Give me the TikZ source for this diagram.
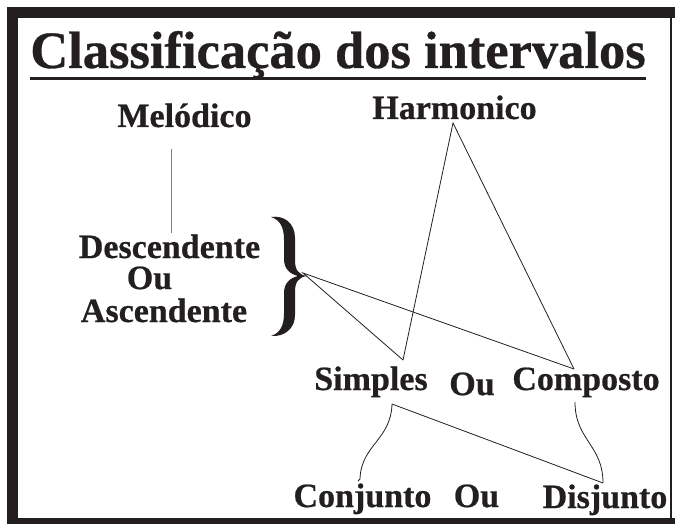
\documentclass[tikz,border=0pt]{standalone}
\usepackage{fontspec}
\newfontfamily\ttlfont[FakeBold=0.6]{Liberation Serif Bold}
\newfontfamily\labfont[FakeBold=0.6]{Liberation Serif Bold}
\definecolor{ink}{RGB}{35,31,32}
\tikzset{
  lbl/.style={anchor=base, inner sep=0pt, text=ink, font=\labfont\fontsize{34}{34}\selectfont},
  ttl/.style={anchor=base, inner sep=0pt, text=ink, font=\ttlfont\fontsize{52.5}{52.5}\selectfont},
  conn/.style={draw=ink, line width=0.8pt},
  band/.style={fill=ink, draw=none}
}
\begin{document}
\begin{tikzpicture}[x=1pt,y=-1pt]
\useasboundingbox (0,0) rectangle (675,524);
\fill[white] (0,0) rectangle (675,524);
% frame
\path[band] (7,7) rectangle (675,18);
\path[band] (7,7) rectangle (18,524);
\path[band] (7,518) rectangle (675,524);
\path[band] (670,7) rectangle (672,524);
% title
\node[ttl] (title) at (338,68) {Classificação dos intervalos};
\fill[ink] ([yshift=-9pt]title.base west) rectangle ([yshift=-12pt]title.base east);
% labels
\node[lbl] (mel) at (184.5,127) {Melódico};
\node[lbl] (har) at (454.5,119) {Harmonico};
\node[lbl] (des) at (169.5,258) {Descendente};
\node[lbl] (ou1) at (149.5,289) {Ou};
\node[lbl] (asc) at (164,322) {Ascendente};
\node[lbl] (sim) at (371,390) {Simples};
\node[lbl] (ou2) at (472,395) {Ou};
\node[lbl] (com) at (586,390) {Composto};
\node[lbl] (con) at (362.5,507) {Conjunto};
\node[lbl] (ou3) at (476.5,507) {Ou};
\node[lbl] (dis) at (605,508) {Disjunto};
% brace
\fill[ink] (271,217) .. controls (284,215) and (295,223) .. (295,238)
  -- (295,261) .. controls (295,270) and (299,275) .. (307,276)
  .. controls (299,277) and (295,282) .. (295,291)
  -- (295,315) .. controls (295,329) and (284,337) .. (271,336)
  .. controls (280,333) and (284,326) .. (284,313)
  -- (284,293) .. controls (284,283) and (290,278) .. (298,276)
  .. controls (290,274) and (284,269) .. (284,259)
  -- (284,240) .. controls (284,227) and (280,220) .. (271,217) -- cycle;
% connector end points
\coordinate (melB) at (171,149);
\coordinate (desT) at (171,233);
\coordinate (harA) at (453,123);
\coordinate (simT) at (403,360);
\coordinate (comT) at (574,369);
\coordinate (brT)  at (303,273);
\coordinate (simB) at (392,404);
\coordinate (comB) at (575,402);
\coordinate (conT) at (360,479);
\coordinate (disT) at (603,483);
% connectors
\draw[draw=gray, line width=0.9pt] (melB) -- (desT);
\draw[conn] (simT) -- (harA) -- (comT);
\draw[conn] (simT) -- (brT) -- (comT);
\draw[conn] (simB) -- (disT);
\draw[conn] (simB) .. controls (391,440) and (361,445) .. (conT) -- ++(-2,2);
\draw[conn] (comB) .. controls (575,440) and (603,445) .. (disT);
\end{tikzpicture}
\end{document}
